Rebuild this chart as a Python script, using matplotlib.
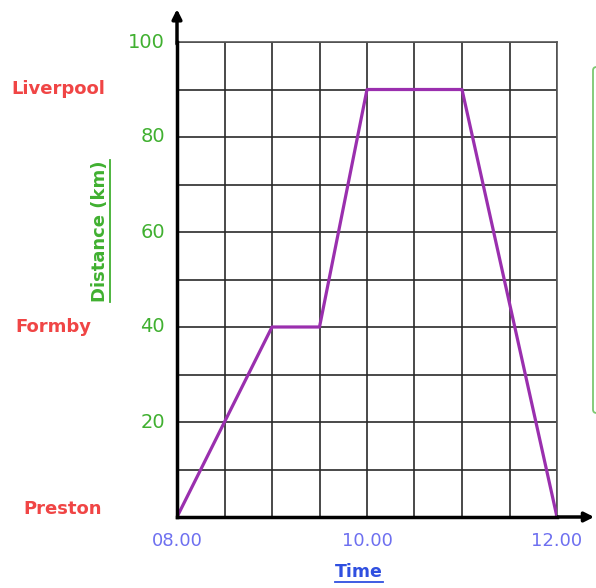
import matplotlib
matplotlib.use('Agg')
import matplotlib.pyplot as plt
from matplotlib.lines import Line2D
from matplotlib.patches import FancyBboxPatch

# journey data (hours, km)
times = [8.0, 9.0, 9.5, 10.0, 11.0, 12.0]
distances = [0, 40, 40, 90, 90, 0]

place_names = ['Preston', 'Formby', 'Liverpool']
place_dist = [0, 40, 90]
place_x = [63, 53, 58]  # pixel centres of the labels

y_ticks = [20, 40, 60, 80, 100]
x_ticks = [8.0, 10.0, 12.0]
x_labels = ['08.00', '10.00', '12.00']

RED = '#f04545'
GREEN = '#40b030'
BLUE_TICK = '#6e70f0'
BLUE = '#2f4fe0'
PURPLE = '#9a2fae'

W, H = 596, 588
fig = plt.figure(figsize=(W / 100, H / 100), dpi=100)
ax = fig.add_axes([177 / W, 1 - 517 / H, 380 / W, 475 / H])

ax.plot(times, distances, color=PURPLE, lw=2.3, solid_capstyle='round', zorder=5)

ax.set_xlim(8, 12)
ax.set_ylim(0, 100)
ax.set_xticks([8 + 0.5 * i for i in range(9)], minor=False)
ax.set_yticks(range(0, 101, 10))
ax.grid(True, color='#2a2a2a', lw=1.2)
ax.tick_params(length=0, labelbottom=False, labelleft=False)

for s in ['top', 'right']:
    ax.spines[s].set_color('#555555')
    ax.spines[s].set_linewidth(1.2)
for s in ['left', 'bottom']:
    ax.spines[s].set_linewidth(2.5)
    ax.spines[s].set_zorder(6)

# arrows on the axes
ax.annotate('', xy=(0, 1.075), xytext=(0, 0.99), xycoords='axes fraction',
            arrowprops=dict(arrowstyle='-|>', color='black', lw=2.5, mutation_scale=14),
            annotation_clip=False)
ax.annotate('', xy=(1.105, 0), xytext=(0.99, 0), xycoords='axes fraction',
            arrowprops=dict(arrowstyle='-|>', color='black', lw=2.5, mutation_scale=14),
            annotation_clip=False)

# tick labels as text
for v in y_ticks:
    ax.text(-0.032, v, str(v), transform=ax.get_yaxis_transform(), ha='right',
            va='center', color=GREEN, fontsize=14)
for v, lab in zip(x_ticks, x_labels):
    ax.text(v, -0.05, lab, transform=ax.get_xaxis_transform(), ha='center',
            va='center', color=BLUE_TICK, fontsize=13)

for name, d, px in zip(place_names, place_dist, place_x):
    ypx = 517 - d * 4.75
    if d == 0:
        ypx = 509
    fig.text(px / W, 1 - ypx / H, name, ha='center', va='center',
             color=RED, fontsize=13, fontweight='bold')

t_time = fig.text(359 / W, 1 - 572 / H, 'Time', ha='center', va='center',
                  color=BLUE, fontsize=12.5, fontweight='bold')
t_dist = fig.text(100 / W, 1 - 231 / H, 'Distance (km)', ha='center', va='center',
                  rotation=90, color=GREEN, fontsize=13, fontweight='bold')

# underline the axis titles
fig.canvas.draw()
r = fig.canvas.get_renderer()
bb = t_time.get_window_extent(r)
fig.add_artist(Line2D([bb.x0 / W, bb.x1 / W], [(bb.y0 - 1) / H] * 2, color=BLUE, lw=1.3))
bb = t_dist.get_window_extent(r)
fig.add_artist(Line2D([(bb.x1 + 1) / W] * 2, [bb.y0 / H, bb.y1 / H], color=GREEN, lw=1.3))

# edge of the green box on the right
box = FancyBboxPatch((593 / W, 1 - 413 / H), 30 / W, 346 / H,
                     boxstyle='round,pad=0,rounding_size=0.006',
                     transform=fig.transFigure, fill=False, ec='#7cc870', lw=1.3)
fig.add_artist(box)

fig.savefig('out.png', dpi=100)
